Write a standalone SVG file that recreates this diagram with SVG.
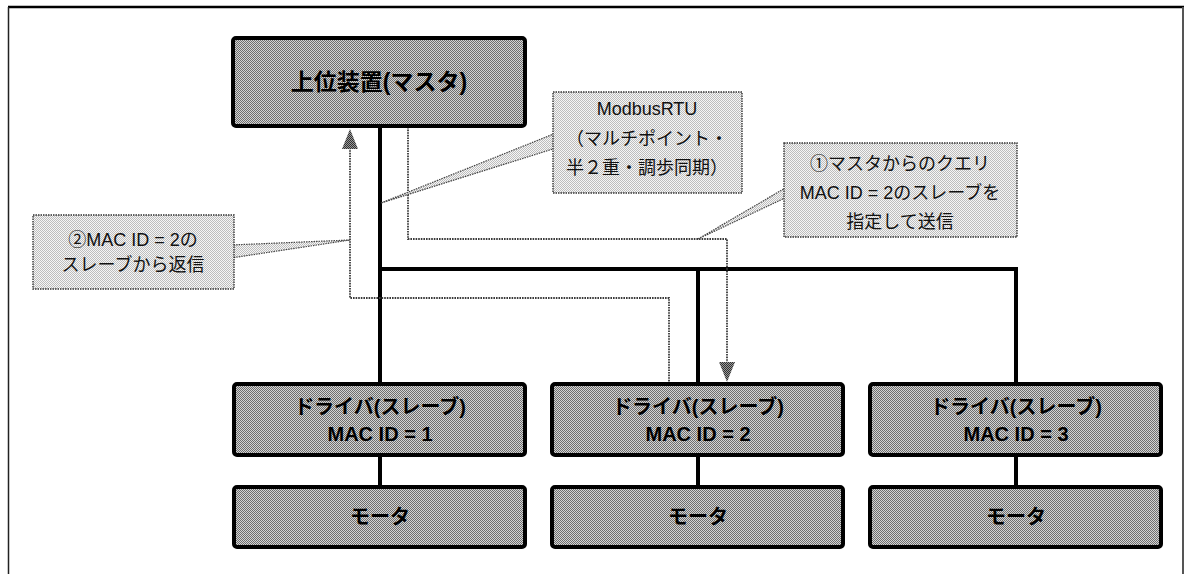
<svg xmlns="http://www.w3.org/2000/svg" width="1186" height="574" viewBox="0 0 1186 574">
<defs>
<pattern id="pn" width="2" height="2" patternUnits="userSpaceOnUse"><rect width="2" height="2" fill="#d4d4d4"/><rect width="1" height="1" fill="#6e6e6e"/><rect x="1" y="1" width="1" height="1" fill="#6e6e6e"/></pattern>
<pattern id="pc" width="2" height="2" patternUnits="userSpaceOnUse"><rect width="2" height="2" fill="#f6f6f6"/><rect width="1" height="1" fill="#bdbdbd"/><rect x="1" y="1" width="1" height="1" fill="#bdbdbd"/></pattern>
<pattern id="pa" width="2" height="2" patternUnits="userSpaceOnUse"><rect width="2" height="2" fill="#9a9a9a"/><rect width="1" height="1" fill="#303030"/><rect x="1" y="1" width="1" height="1" fill="#303030"/></pattern>
</defs>
<style>
.node{fill:url(#pn);stroke:#000;stroke-width:4}
.call{fill:url(#pc);stroke:#333;stroke-width:1.4;stroke-dasharray:1.5 1}
.wedge{fill:url(#pc);stroke:#444;stroke-width:1.2;stroke-dasharray:1.5 1}
.bus{stroke:#000;stroke-width:4;fill:none}
.sig{stroke:#3a3a3a;stroke-width:1.8;stroke-dasharray:1.6 1;fill:none}
.head{fill:url(#pa)}
.nt{font-family:"Liberation Sans","Noto Sans CJK JP",sans-serif;font-weight:bold;fill:#000;text-anchor:middle;dominant-baseline:central}
.ct{font-family:"Liberation Sans","Noto Sans CJK JP",sans-serif;font-size:18px;fill:#111;text-anchor:middle;dominant-baseline:central}
</style>
<rect x="0" y="0" width="1186" height="574" fill="#fff"/>
<g id="frame">
<line x1="8" y1="7" x2="1184" y2="7" stroke="#000" stroke-width="2.5"/>
<line x1="8.5" y1="7" x2="8.5" y2="574" stroke="#222" stroke-width="1.5"/>
<line x1="1183" y1="7" x2="1183" y2="574" stroke="#555" stroke-width="2"/>
</g>
<g id="connectors">
<path class="bus" d="M380,126 V384"/>
<path class="bus" d="M380,269 H1016 V384"/>
<path class="bus" d="M698,269 V384"/>
<path class="bus" d="M380,455 V487"/>
<path class="bus" d="M698,455 V487"/>
<path class="bus" d="M1016,455 V487"/>
<path class="sig" d="M408,127 V239 H727 V364"/>
<path class="head" d="M719,362 L735,362 L727,382 Z"/>
<path class="sig" d="M669,384 V298 H350 V147"/>
<path class="head" d="M342,149 L358,149 L350,129 Z"/>
</g>
<g id="master">
<rect class="node" x="233" y="38" width="292" height="88" rx="3"/>
<text class="nt" x="379" y="82" font-size="23">上位装置(マスタ)</text>
</g>
<g id="driver1">
<rect class="node" x="234" y="384" width="291" height="71" rx="3"/>
<text class="nt" x="380" y="407" font-size="20">ドライバ(スレーブ)</text>
<text class="nt" x="380" y="434" font-size="20">MAC ID = 1</text>
</g>
<g id="driver2">
<rect class="node" x="552" y="384" width="291" height="71" rx="3"/>
<text class="nt" x="698" y="407" font-size="20">ドライバ(スレーブ)</text>
<text class="nt" x="698" y="434" font-size="20">MAC ID = 2</text>
</g>
<g id="driver3">
<rect class="node" x="870" y="384" width="291" height="71" rx="3"/>
<text class="nt" x="1016" y="407" font-size="20">ドライバ(スレーブ)</text>
<text class="nt" x="1016" y="434" font-size="20">MAC ID = 3</text>
</g>
<g id="motor1">
<rect class="node" x="234" y="487" width="291" height="60" rx="3"/>
<text class="nt" x="380" y="517" font-size="20">モータ</text>
</g>
<g id="motor2">
<rect class="node" x="552" y="487" width="291" height="60" rx="3"/>
<text class="nt" x="698" y="517" font-size="20">モータ</text>
</g>
<g id="motor3">
<rect class="node" x="870" y="487" width="291" height="60" rx="3"/>
<text class="nt" x="1016" y="517" font-size="20">モータ</text>
</g>
<g id="callout-modbus">
<polygon class="wedge" points="381,203 556,133 556,148"/>
<rect class="call" x="553" y="92" width="189" height="101"/>
<text class="ct" x="647" y="109">ModbusRTU</text>
<text class="ct" x="647" y="139">（マルチポイント・</text>
<text class="ct" x="647" y="168">半２重・調歩同期）</text>
</g>
<g id="callout-query">
<polygon class="wedge" points="698,239 787,187 787,197"/>
<rect class="call" x="784" y="143" width="233" height="94"/>
<text class="ct" x="900" y="164">①マスタからのクエリ</text>
<text class="ct" x="900" y="193">MAC ID = 2のスレーブを</text>
<text class="ct" x="900" y="222">指定して送信</text>
</g>
<g id="callout-reply">
<polygon class="wedge" points="350,240 231,245 231,258"/>
<rect class="call" x="33" y="215" width="201" height="74"/>
<text class="ct" x="133" y="240">②MAC ID = 2の</text>
<text class="ct" x="133" y="265">スレーブから返信</text>
</g>
</svg>
